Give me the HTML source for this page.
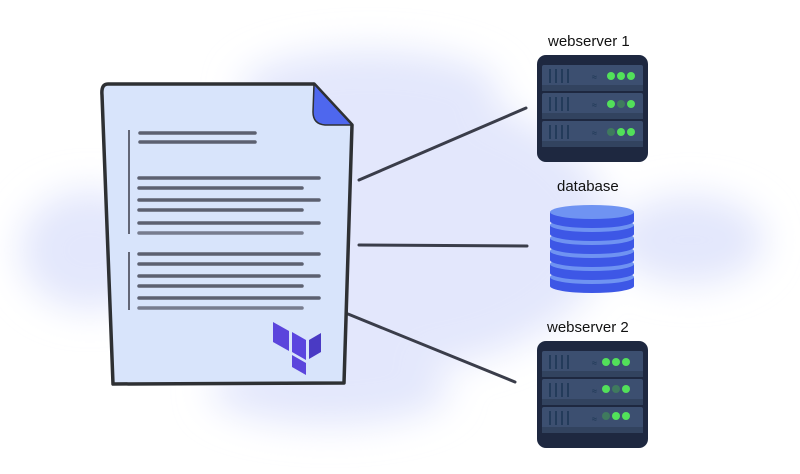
<!DOCTYPE html>
<html><head><style>
html,body{margin:0;padding:0;background:#fff;width:800px;height:474px;overflow:hidden}
svg{display:block}
text{font-family:"Liberation Sans",sans-serif;font-size:15px;fill:#111}
</style></head><body>
<svg width="800" height="474" viewBox="0 0 800 474">
<defs>
<filter id="bl" x="-50%" y="-50%" width="200%" height="200%"><feGaussianBlur stdDeviation="18"/></filter>
<g id="srv">
  <rect x="0" y="0" width="111" height="107" rx="9" fill="#1e2840"/>
  <g id="rack">
    <rect x="5" y="10" width="101" height="26" rx="2" fill="#3c4f70"/>
    <rect x="5" y="30" width="101" height="6" fill="#32435f"/>
    <g stroke="#1b3552" stroke-width="1.5"><line x1="13" y1="14" x2="13" y2="28"/><line x1="19" y1="14" x2="19" y2="28"/><line x1="25" y1="14" x2="25" y2="28"/><line x1="31" y1="14" x2="31" y2="28"/></g>
    <text x="55" y="25" style="font-size:9px;fill:#1b3552">≈</text>
  </g>
  <use href="#rack" y="28"/><use href="#rack" y="56"/>
</g>
</defs>
<g filter="url(#bl)" fill="#e3e7fc">
  <ellipse cx="390" cy="230" rx="220" ry="140"/>
  <ellipse cx="90" cy="250" rx="70" ry="60"/>
  <ellipse cx="690" cy="240" rx="75" ry="45"/>
  <ellipse cx="370" cy="90" rx="130" ry="40"/>
  <ellipse cx="330" cy="390" rx="120" ry="35"/>
</g>
<g stroke="#3a3d4a" stroke-width="3" stroke-linecap="round">
  <line x1="359" y1="180" x2="526" y2="108"/>
  <line x1="359" y1="245" x2="527" y2="246"/>
  <line x1="348" y1="314" x2="515" y2="382"/>
</g>
<path d="M108 84 L314 84 L352 125 L344 383 L113 384 L102 95 Q101 84 108 84 Z" fill="#d8e4fb" stroke="#2e3033" stroke-width="3.5" stroke-linejoin="round"/>
<path d="M314 84 L352 125 L325 125 Q313 124 313 112 Z" fill="#4e67ee" stroke="#2e3033" stroke-width="1.5"/>
<g stroke="#5c6070" stroke-width="3.5" stroke-linecap="round">
  <line x1="140" y1="133" x2="255" y2="133"/><line x1="140" y1="142" x2="255" y2="142"/>
  <line x1="139" y1="178" x2="319" y2="178"/><line x1="139" y1="188" x2="302" y2="188"/>
  <line x1="139" y1="200" x2="319" y2="200"/><line x1="139" y1="210" x2="302" y2="210"/>
  <line x1="139" y1="223" x2="319" y2="223"/><line x1="139" y1="233" x2="302" y2="233" stroke="#777c8e"/>
  <line x1="139" y1="254" x2="319" y2="254"/><line x1="139" y1="264" x2="302" y2="264"/>
  <line x1="139" y1="276" x2="319" y2="276"/><line x1="139" y1="286" x2="302" y2="286"/>
  <line x1="139" y1="298" x2="319" y2="298"/><line x1="139" y1="308" x2="302" y2="308" stroke="#777c8e"/>
</g>
<g stroke="#3a3d4a" stroke-width="1.5"><line x1="129" y1="130" x2="129" y2="234"/><line x1="129" y1="252" x2="129" y2="310"/></g>
<g fill="#5b45dc">
  <polygon points="273,322 289,331 289,351 273,342"/>
  <polygon points="292,332 306,340 306,360 292,352" fill="#5a44df"/>
  <polygon points="309,340 321,333 321,352 309,359" fill="#4a3ac4"/>
  <polygon points="292,355 306,363 306,375 292,367"/>
</g>
<text x="548" y="46">webserver 1</text>
<text x="557" y="191">database</text>
<text x="547" y="332">webserver 2</text>
<use href="#srv" x="537" y="55"/>
<use href="#srv" x="537" y="341"/>
<g>
  <circle cx="611" cy="76" r="4" fill="#52e05a"/><circle cx="621" cy="76" r="4" fill="#52e05a"/><circle cx="631" cy="76" r="4" fill="#52e05a"/>
  <circle cx="611" cy="104" r="4" fill="#52e05a"/><circle cx="621" cy="104" r="4" fill="#3f7a5e"/><circle cx="631" cy="104" r="4" fill="#52e05a"/>
  <circle cx="611" cy="132" r="4" fill="#3f7a5e"/><circle cx="621" cy="132" r="4" fill="#52e05a"/><circle cx="631" cy="132" r="4" fill="#52e05a"/>
  <circle cx="606" cy="362" r="4" fill="#52e05a"/><circle cx="616" cy="362" r="4" fill="#52e05a"/><circle cx="626" cy="362" r="4" fill="#52e05a"/>
  <circle cx="606" cy="389" r="4" fill="#52e05a"/><circle cx="616" cy="389" r="4" fill="#3f7a5e"/><circle cx="626" cy="389" r="4" fill="#52e05a"/>
  <circle cx="606" cy="416" r="4" fill="#3f7a5e"/><circle cx="616" cy="416" r="4" fill="#52e05a"/><circle cx="626" cy="416" r="4" fill="#52e05a"/>
</g>
<g id="db">
  <g id="disk5"><path d="M550 277 L550 286 A42 7 0 0 0 634 286 L634 277 Z" fill="#3d57e6"/><ellipse cx="592" cy="277" rx="42" ry="7" fill="#6f93f2"/></g>
  <use href="#disk5" y="-13"/><use href="#disk5" y="-26"/><use href="#disk5" y="-39"/><use href="#disk5" y="-52"/><use href="#disk5" y="-65"/>
</g>
</svg>
</body></html>
